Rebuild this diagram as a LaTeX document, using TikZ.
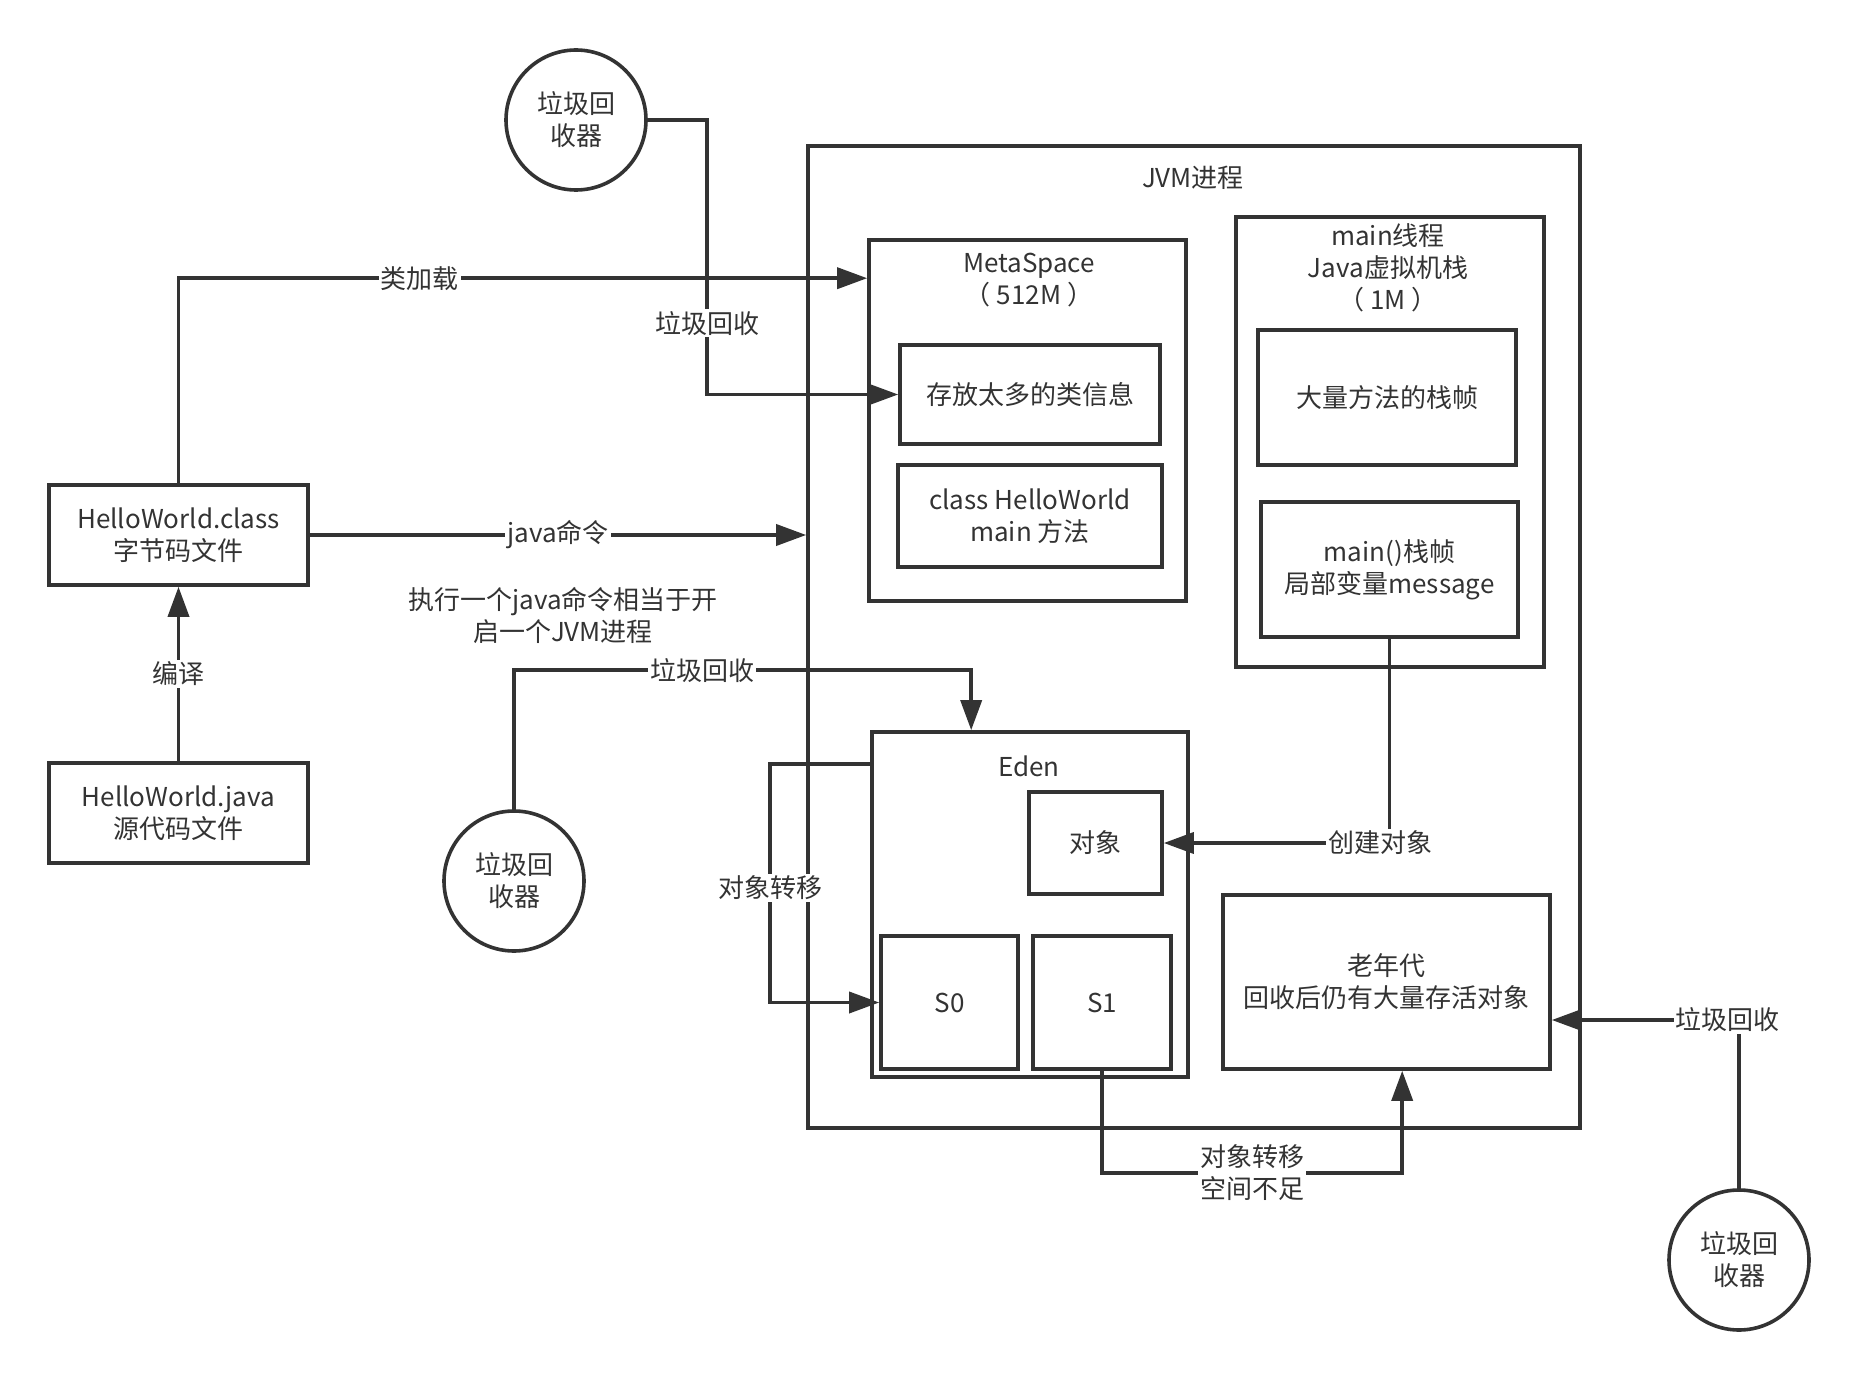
\documentclass[tikz,border=0pt]{standalone}
\usepackage{fontspec}
\setmainfont{Noto Sans CJK SC}
\usetikzlibrary{arrows.meta}
\definecolor{ink}{HTML}{333333}
\begin{document}
\begin{tikzpicture}[x=0.5pt,y=-0.5pt,
    font=\fontsize{13pt}{16pt}\selectfont, color=ink, line width=1.8pt,
    box/.style={draw, rectangle, inner sep=0pt, align=center},
    gc/.style={draw, circle, minimum size=70pt, inner sep=0pt, align=center, fill=white},
    arr/.style={-{Triangle[length=15pt,width=10.5pt]}},
    lbl/.style={fill=white, inner sep=1pt, align=center}]
  \useasboundingbox (0,0) rectangle (1860,1380);
  \node[box, minimum width=386pt, minimum height=491pt] (jvm) at (1194,637) {};
  \node (jvmname) at (1193,178) {JVM进程};
  \node[box, minimum width=158.5pt, minimum height=180.5pt] (meta) at (1027.5,420.5) {};
  \node[align=center] (metaname) at (1029,280) {MetaSpace\\（ 512M ）};
  \node[box, minimum width=130pt, minimum height=49.5pt] (info) at (1030,394.5) {存放太多的类信息};
  \node[box, minimum width=132pt, minimum height=51pt] (hwclass) at (1030,516) {class HelloWorld\\main 方法};
  \node[box, minimum width=154pt, minimum height=225pt] (mainthread) at (1390,442) {};
  \node[align=center] (threadname) at (1388,268) {main线程\\Java虚拟机栈\\（ 1M ）};
  \node[box, minimum width=129pt, minimum height=67.5pt] (frames) at (1387,397.5) {大量方法的栈帧};
  \node[box, minimum width=128.5pt, minimum height=67.5pt] (mainframe) at (1389.5,569.5) {main()栈帧\\局部变量message};
  \node[box, minimum width=158pt, minimum height=172.5pt] (eden) at (1030,904.5) {};
  \node (edenname) at (1029,766) {Eden};
  \node[box, minimum width=66.5pt, minimum height=51pt] (obj) at (1095.5,843) {对象};
  \node[box, minimum width=68.5pt, minimum height=66.5pt] (s0) at (949.5,1002.5) {S0};
  \node[box, minimum width=69pt, minimum height=66.5pt] (s1) at (1102,1002.5) {S1};
  \node[box, minimum width=163.5pt, minimum height=87pt] (old) at (1386.5,982) {老年代\\回收后仍有大量存活对象};
  \node[box, minimum width=129.5pt, minimum height=50pt] (cls) at (178.5,535) {HelloWorld.class\\字节码文件};
  \node[box, minimum width=129.5pt, minimum height=50pt] (src) at (178.5,813) {HelloWorld.java\\源代码文件};
  \node[gc] (gc1) at (576,120) {垃圾回\\收器};
  \node[gc] (gc2) at (514,881) {垃圾回\\收器};
  \node[gc] (gc3) at (1739,1260) {垃圾回\\收器};
  \node[align=center] (note) at (563,615) {执行一个java命令相当于开\\启一个JVM进程};
  \draw[arr] (src.north) -- node[lbl]{编译} (cls.south);
  \draw[arr] (cls.north) |- node[lbl,pos=0.675]{类加载} ([yshift=-20pt]meta.north west);
  \draw[arr] (cls.east) -- node[lbl]{java命令} (cls.east -| jvm.west);
  \draw[arr] (gc1.east) -| node[lbl,pos=0.87]{垃圾回收} ([xshift=-95.5pt]info.west) -- (info.west);
  \draw[arr] (gc2.north) |- node[lbl,pos=0.706]{垃圾回收} ([xshift=50.5pt,yshift=30pt]eden.north west) -- ([xshift=50.5pt]eden.north west);
  \draw[arr] ([yshift=-17pt]eden.north west) -| node[lbl,pos=0.76]{对象转移} ([xshift=-54.5pt]s0.west) -- (s0.west);
  \draw[arr] (mainframe.south) |- node[lbl,pos=0.52]{创建对象} (obj.east);
  \draw[arr] (s1.south) |- node[lbl,pos=0.75]{对象转移\\空间不足} ([xshift=90.5pt,yshift=-51pt]old.south west) -- ([xshift=90.5pt]old.south west);
  \draw[arr] (gc3.north) |- node[lbl,pos=0.53]{垃圾回收} ([yshift=-19pt]old.east);
\end{tikzpicture}
\end{document}
